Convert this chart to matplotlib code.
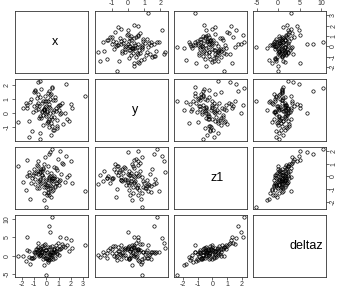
import matplotlib
matplotlib.use('Agg')
import matplotlib.pyplot as plt

plt.rcParams['font.family'] = ['Liberation Sans', 'DejaVu Sans']
plt.rcParams['axes.unicode_minus'] = False

# values (first 13 are the stand-out points)
x = [0.45, 0.20, 0.27, 1.10, 1.60, -0.05, 3.20, -2.35, -0.55, -0.50, -1.40, -0.70, -1.60,
     -0.12, 0.35, -0.80, 0.62, -0.30, 1.05, -1.10, 0.15, 0.48, -0.65,
     0.90, -0.25, 0.05, -1.45, 0.72, 0.28, -0.50, 1.30, -0.95, 0.10,
     -0.35, 0.55, -1.20, 0.82, -0.05, 0.40, -0.70, 1.55, -0.18, 0.22,
     -1.65, 0.65, -0.40, 0.95, 0.00, -0.85, 0.30, 1.85, -0.60, 0.12,
     -1.00, 0.50, -0.22, 2.00, -0.48, 0.78, -1.30, 0.18, 0.60, -0.10,
     1.15, -0.75, 0.25, -1.90, 0.45, 0.85, -0.32, 0.08, -0.55, 1.40,
     -0.15, 0.38, -1.05, 0.70, -0.28, 2.10, -0.90, 0.02, 0.52, -1.55,
     0.32, -0.42, 1.00, -0.08, 0.58, -0.62, 1.22, -1.25, 0.14, -0.20,
     0.88, -0.68, 0.42, 1.70, -0.38, 0.20, -0.02]
y = [1.80, 1.60, 0.00, 0.60, 2.10, 0.90, 1.25, -0.65, 2.30, -1.85, -1.70, 2.25, 0.40,
     0.45, -0.30, 1.10, 0.20, -0.85, 0.60, 0.05, 1.45, -0.40, 0.30,
     -1.10, 0.85, 0.15, -0.55, 1.20, 0.40, -0.20, 0.75, 1.60, -0.65,
     0.10, 0.95, -1.30, 0.35, 0.55, -0.75, 1.35, 0.00, 0.25, -0.45,
     0.70, -1.20, 1.75, 0.50, -0.10, 0.20, 1.05, -0.60, -0.35, 0.90,
     1.50, -0.90, 0.30, 0.65, -1.45, 0.15, 0.80, 0.45, -0.25, 1.25,
     -0.05, 0.60, -1.00, 0.35, 1.90, -0.50, 0.70, 0.05, 1.15, -0.80,
     0.25, -1.55, 0.50, 0.95, -0.15, 0.40, 1.65, -0.70, 0.10, 0.60,
     1.30, -0.35, 0.20, 0.85, -1.25, 0.55, 0.00, 1.00, -0.60, 0.30,
     -0.95, 0.75, 1.40, -0.40, 0.15, 0.65, -0.20]
z1 = [2.15, 1.75, 1.95, 2.05, 1.60, -2.40, -1.15, 0.80, 0.35, -0.60, 0.10, 1.20, 1.30,
      -0.40, 0.25, -0.90, -0.10, 0.55, -0.65, 0.10, -1.20, -0.30, 0.80,
      -0.50, -0.05, -1.45, 0.35, -0.75, 0.00, -0.20, 1.10, -0.60, -1.00,
      0.45, -0.35, -0.15, 0.65, -0.85, -1.60, 0.20, -0.45, 0.95, -0.25,
      -1.10, 0.05, -0.55, 1.40, -0.70, 0.30, -0.95, 0.15, -0.40, -1.30,
      0.60, -0.15, -0.80, 1.25, 0.40, -0.50, -1.75, -0.05, 0.75, -0.60,
      -0.30, 0.90, -0.10, -0.45, -1.15, 0.50, 0.10, -0.70, -0.25, 1.00,
      -1.90, -0.35, 0.25, -0.85, 0.70, -0.55, -0.20, 0.35, -1.05, 0.00,
      -0.65, 0.55, -0.40, 1.50, -0.15, -0.90, 0.20, -0.50, 0.85, -1.35,
      -0.20, 0.45, -0.75, -0.05, 0.15, -1.50, -0.30]
deltaz = [10.5, 8.1, 6.6, 5.2, 4.9, -5.2, 3.0, 0.0, 2.2, 0.3, -0.4, 3.4, 5.0,
          1.5, 0.2, 1.1, 1.7, -0.1, 1.9, -0.7, 0.9, 0.2, 2.3,
          2.1, -0.8, -0.7, 1.2, -0.5, 2.4, 0.2, 3.3, 0.9, -1.3,
          2.7, 1.0, -0.6, 2.9, 1.6, -0.3, 0.4, 2.4, 3.0, -0.9,
          -1.4, 1.5, 1.0, 3.6, -0.6, 1.8, 0.5, 1.2, 0.6, -1.8,
          0.9, 2.6, 0.6, 4.3, 0.1, 1.2, -2.2, 0.4, 1.7, -0.6,
          1.8, 1.8, 1.8, 0.0, 1.1, 0.4, 1.0, -0.9, 1.5, 2.6,
          -2.5, 1.1, -0.3, 1.0, 2.1, 2.1, 0.8, 0.6, -0.8, 1.6,
          0.2, 1.8, 0.3, 3.3, 0.6, 0.0, 2.2, -0.7, 2.3, 0.2,
          0.8, 1.5, -1.0, 2.9, 1.3, -1.1, 1.5]

names = ['x', 'y', 'z1', 'deltaz']
data = [x, y, z1, deltaz]
ticks = [[-2, -1, 0, 1, 2, 3], [-1, 0, 1, 2], [-2, -1, 0, 1, 2], [-5, 0, 5, 10]]

W, H = 342, 295
lefts = [15, 95, 174, 253]
tops = [11, 79, 147, 215]
pw, ph = 73, 62

def lims(v):
    lo, hi = min(v), max(v)
    pad = 0.04 * (hi - lo)
    return lo - pad, hi + pad

fig = plt.figure(figsize=(W / 100, H / 100), dpi=100)

for i in range(4):
    for j in range(4):
        ax = fig.add_axes([lefts[j] / W, 1 - (tops[i] + ph) / H, pw / W, ph / H])
        for s in ax.spines.values():
            s.set_linewidth(0.6)
            s.set_color('#333333')
        ax.set_xlim(lims(data[j]))
        ax.set_ylim(lims(data[i]))
        ax.tick_params(direction='out', length=2, width=0.5, pad=1,
                       labelsize=5, colors='#333333')
        if i == j:
            ax.text(0.5, 0.5, names[i], transform=ax.transAxes, fontsize=9,
                    ha='left', va='center')
        else:
            ax.plot(data[j], data[i], 'o', mfc='none', mec='black', ms=2.4, mew=0.5)

        # R pairs style: axes alternate between sides
        if i == 0 and j % 2 == 1:
            ax.xaxis.tick_top()
            ax.set_xticks(ticks[j])
        elif i == 3 and j % 2 == 0:
            ax.set_xticks(ticks[j])
        else:
            ax.set_xticks([])
        if j == 0 and i % 2 == 1:
            ax.set_yticks(ticks[i])
            ax.tick_params(axis='y', labelrotation=90)
            for t in ax.get_yticklabels():
                t.set_va('center')
        elif j == 3 and i % 2 == 0:
            ax.yaxis.tick_right()
            ax.set_yticks(ticks[i])
            ax.tick_params(axis='y', labelrotation=90)
            for t in ax.get_yticklabels():
                t.set_va('center')
        else:
            ax.set_yticks([])

fig.savefig('out.png', dpi=100)
